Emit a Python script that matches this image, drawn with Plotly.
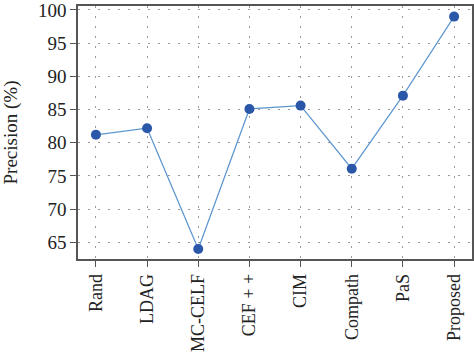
import plotly.graph_objects as go

categories = ["Rand", "LDAG", "MC-CELF", "CEF + +", "CIM", "Compath", "PaS", "Proposed"]
precision = [81.2, 82.2, 64.0, 85.1, 85.6, 76.1, 87.1, 99.0]
y_ticks = [65, 70, 75, 80, 85, 90, 95, 100]

fig = go.Figure()
fig.add_trace(go.Scatter(
    x=list(range(len(categories))), y=precision, mode="lines+markers",
    line=dict(color="#5b95cf", width=1.2),
    marker=dict(color="#2b57a8", size=10),
))

font_serif = "Liberation Serif"
fig.update_layout(
    width=474, height=352,
    margin=dict(l=78, r=2, t=6, b=93),
    paper_bgcolor="white", plot_bgcolor="white",
    showlegend=False,
    font=dict(family=font_serif, color="#222", size=19),
)
fig.update_xaxes(
    range=[-0.35, 7.35], automargin=False,
    tickmode="array", tickvals=list(range(len(categories))), ticktext=categories,
    tickangle=-90, tickfont=dict(size=18, family=font_serif),
    ticklabeloverflow="allow",
    showline=True, linecolor="#555", linewidth=1.5, mirror=True,
    ticks="outside", ticklen=6, tickcolor="#555",
    showgrid=True, gridcolor="#999999", griddash="1.5px,8.5px", gridwidth=1.2,
    zeroline=False,
)
fig.update_yaxes(
    range=[62.5, 100.6], automargin=False,
    tickmode="array", tickvals=y_ticks,
    tickfont=dict(size=19, family=font_serif),
    ticklabeloverflow="allow",
    title=dict(text="Precision (%)", font=dict(size=19, family=font_serif), standoff=24),
    showline=True, linecolor="#555", linewidth=1.5, mirror=True,
    ticks="outside", ticklen=6, tickcolor="#555",
    showgrid=True, gridcolor="#999999", griddash="1.5px,8.5px", gridwidth=1.2,
    zeroline=False,
)
fig.write_html("out.html")
